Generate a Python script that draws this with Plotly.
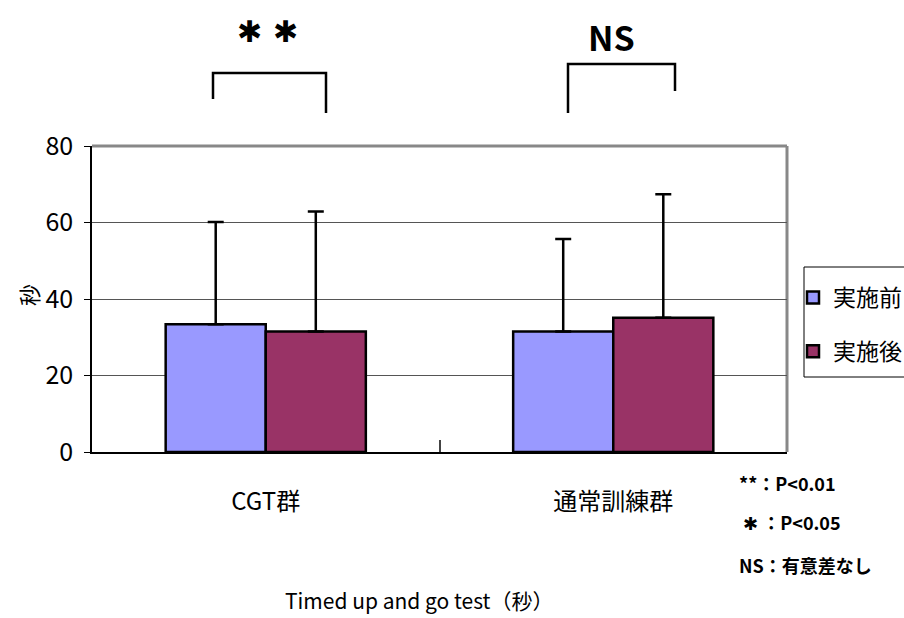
import plotly.graph_objects as go

# Timed up and go test: mean and SD before/after, by group
groups = ["CGT群", "通常訓練群"]
series_names = ["実施前", "実施後"]
mean_before = [33.4, 31.5]
sd_before = [26.7, 24.2]
mean_after = [31.5, 35.1]
sd_after = [31.4, 32.3]
y_ticks = [0, 20, 40, 60, 80]

colors = ["#9999FF", "#993366"]

FONT = "Noto Sans CJK JP, sans-serif"
STAR_FONT = "DejaVu Sans, Noto Sans CJK JP, sans-serif"

W, H = 904, 618
L, R, T, B = 92, 117, 146, 166
PW, PH = W - L - R, H - T - B


def px(x):
    return (x - L) / PW


def py(y):
    return (H - B - y) / PH


fig = go.Figure()
for i, (name, means, sds) in enumerate(
    [(series_names[0], mean_before, sd_before), (series_names[1], mean_after, sd_after)]
):
    fig.add_trace(
        go.Bar(
            x=groups,
            y=means,
            name=name,
            legendgroup=name,
            marker=dict(color=colors[i], line=dict(color="black", width=2.5)),
            error_y=dict(
                type="data",
                symmetric=False,
                array=sds,
                arrayminus=[0] * len(sds),
                color="black",
                thickness=2.5,
                width=8,
            ),
        )
    )

shapes = [
    # plot-area frame (top and right edges)
    dict(type="line", xref="paper", yref="paper", x0=0, x1=1, y0=1, y1=1,
         line=dict(color="#888888", width=3), layer="below"),
    dict(type="line", xref="paper", yref="paper", x0=1, x1=1, y0=0, y1=1,
         line=dict(color="#888888", width=3), layer="below"),
    # significance brackets
    dict(type="path", xref="paper", yref="paper",
         path=f"M{px(213)},{py(99)} L{px(213)},{py(73)} L{px(326)},{py(73)} L{px(326)},{py(113)}",
         line=dict(color="black", width=2.5)),
    dict(type="path", xref="paper", yref="paper",
         path=f"M{px(568)},{py(113)} L{px(568)},{py(64)} L{px(675)},{py(64)} L{px(675)},{py(91)}",
         line=dict(color="black", width=2.5)),
    # legend frame
    dict(type="rect", xref="paper", yref="paper",
         x0=px(804), x1=px(940), y0=py(377), y1=py(267),
         line=dict(color="black", width=1)),
]

star = '<span style="font-family:DejaVu Sans">✱</span>'

annotations = [
    dict(text="✱", x=px(249), y=py(31), showarrow=False, xref="paper", yref="paper",
         font=dict(family=STAR_FONT, size=30, color="black"), xanchor="center", yanchor="middle"),
    dict(text="✱", x=px(285), y=py(31), showarrow=False, xref="paper", yref="paper",
         font=dict(family=STAR_FONT, size=30, color="black"), xanchor="center", yanchor="middle"),
    dict(text="<b>NS</b>", x=px(611), y=py(37), showarrow=False, xref="paper", yref="paper",
         font=dict(family=FONT, size=34, color="black"), xanchor="center", yanchor="middle"),
    dict(text="秒", x=px(28), y=py(295), showarrow=False, xref="paper", yref="paper", textangle=-90,
         font=dict(family=FONT, size=22, color="black"), xanchor="center", yanchor="middle"),
    dict(text="Timed up and go test（秒）", x=px(419), y=py(600), showarrow=False, xref="paper", yref="paper",
         font=dict(family=FONT, size=21, color="black"), xanchor="center", yanchor="middle"),
    dict(text="<b>**：P<0.01</b>", x=px(737), y=py(483), showarrow=False, xref="paper", yref="paper",
         font=dict(family=FONT, size=18, color="black"), xanchor="left", yanchor="middle"),
    dict(text=f"<b> {star} ：P<0.05</b>", x=px(737), y=py(522), showarrow=False, xref="paper", yref="paper",
         font=dict(family=FONT, size=18, color="black"), xanchor="left", yanchor="middle"),
    dict(text="<b>NS：有意差なし</b>", x=px(737), y=py(565), showarrow=False, xref="paper", yref="paper",
         font=dict(family=FONT, size=18, color="black"), xanchor="left", yanchor="middle"),
]

fig.update_layout(
    width=W,
    height=H,
    margin=dict(l=L, r=R, t=T, b=B, pad=0, autoexpand=False),
    paper_bgcolor="white",
    plot_bgcolor="white",
    barmode="group",
    bargap=0.424,
    bargroupgap=0,
    font=dict(family=FONT, color="black"),
    showlegend=True,
    legend=dict(
        xref="container", yref="container",
        x=793 / W, y=1 - 276 / H, xanchor="left", yanchor="top",
        bgcolor="rgba(0,0,0,0)", borderwidth=0,
        font=dict(family=FONT, size=23, color="black"),
        traceorder="grouped", tracegroupgap=21, itemwidth=30,
    ),
    xaxis=dict(
        type="category",
        showline=True, linecolor="black", linewidth=2,
        ticks="inside", tickson="boundaries", ticklen=12, tickcolor="#444444", tickwidth=1.5,
        showgrid=False,
        tickfont=dict(family=FONT, size=24, color="black"),
        ticklabelstandoff=27,
    ),
    yaxis=dict(
        range=[0, 80], tickvals=y_ticks,
        showline=True, linecolor="black", linewidth=1.5,
        ticks="outside", ticklen=6, tickcolor="black",
        showgrid=True, gridcolor="#555555", gridwidth=1,
        zeroline=False,
        tickfont=dict(family=FONT, size=25, color="black"),
        ticklabelstandoff=6,
    ),
    shapes=shapes,
    annotations=annotations,
)

fig.write_html("out.html")
